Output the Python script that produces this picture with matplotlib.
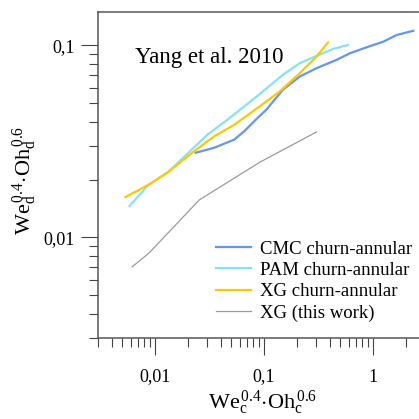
import matplotlib
matplotlib.use('Agg')
import matplotlib.pyplot as plt
from matplotlib.ticker import LogLocator, FuncFormatter, NullFormatter

plt.rcParams['font.family'] = ['Liberation Serif', 'DejaVu Serif']
plt.rcParams['mathtext.fontset'] = 'custom'
plt.rcParams['mathtext.rm'] = 'Liberation Serif'
plt.rcParams['mathtext.it'] = 'Liberation Serif:italic'

# data (log-log)
cmc_x = [0.0236, 0.0349, 0.0533, 0.0659, 0.0873, 0.105, 0.149, 0.213, 0.303,
         0.462, 0.613, 0.873, 1.242, 1.648, 2.344]
cmc_y = [0.0276, 0.0293, 0.0323, 0.0357, 0.0419, 0.0462, 0.0587, 0.0688, 0.076,
         0.0839, 0.0909, 0.0976, 0.1044, 0.1131, 0.119]

pam_x = [0.00584, 0.00849, 0.01345, 0.0303, 0.0462, 0.0873, 0.149, 0.213, 0.303,
         0.430, 0.591]
pam_y = [0.01458, 0.01851, 0.02213, 0.0343, 0.041, 0.0546, 0.0702, 0.0807, 0.088,
         0.0957, 0.1004]

xg_x = [0.00536, 0.00849, 0.01297, 0.02285, 0.0349, 0.0533, 0.0873, 0.139, 0.213,
        0.303, 0.387]
xg_y = [0.01623, 0.01866, 0.02172, 0.0281, 0.0336, 0.0386, 0.0472, 0.0575, 0.0716,
        0.0873, 0.1036]

own_x = [0.00618, 0.00881, 0.0254, 0.0911, 0.303]
own_y = [0.00704, 0.0083, 0.01566, 0.0246, 0.0354]

labels = ['CMC churn-annular', 'PAM churn-annular', 'XG churn-annular', 'XG (this work)']

fig = plt.figure(figsize=(4.19, 4.19), dpi=100)
ax = fig.add_axes([98 / 419, 81 / 419, 327 / 419, 326 / 419])

ax.plot(cmc_x, cmc_y, color='#6496F0', lw=1.6, label=labels[0])
ax.plot(pam_x, pam_y, color='#86E2F6', lw=1.6, label=labels[1])
ax.plot(xg_x, xg_y, color='#FFC800', lw=1.6, label=labels[2])
ax.plot(own_x, own_y, color='#9A9A9A', lw=0.9, label=labels[3])

ax.set_xscale('log')
ax.set_yscale('log')
ax.set_xlim(0.003, 3)
ax.set_ylim(0.003, 0.149)

fmt = FuncFormatter(lambda v, p: ('%g' % v).replace('.', ','))
for axis in (ax.xaxis, ax.yaxis):
    axis.set_major_locator(LogLocator(base=10))
    axis.set_minor_locator(LogLocator(base=10, subs=range(2, 10)))
    axis.set_major_formatter(fmt)
    axis.set_minor_formatter(NullFormatter())

for s in ['left', 'bottom', 'top']:
    ax.spines[s].set_color('#555555')
    ax.spines[s].set_linewidth(1.1)
ax.spines['right'].set_visible(False)

ax.tick_params(which='major', direction='out', length=12, width=0.8, color='#444444',
               labelsize=13)
ax.tick_params(which='minor', direction='out', length=6.5, width=0.8, color='#444444')
ax.tick_params(axis='x', which='major', pad=10)
ax.tick_params(axis='y', which='major', pad=5)

# axis titles placed in figure pixels
fig.text(263 / 419, 1 - 403 / 419, r'$\mathrm{We_c^{\,0.4}{\cdot}Oh_c^{\,0.6}}$',
         fontsize=16, ha='center', va='center')
fig.text(25 / 419, 1 - 180 / 419, r'$\mathrm{We_d^{\,0.4}{\cdot}Oh_d^{\,0.6}}$',
         fontsize=16, ha='center', va='center', rotation=90)

fig.text(135 / 419, 1 - 57 / 419, 'Yang et al. 2010', fontsize=16.5,
         va='center', ha='left')

ax.legend(loc='upper left', bbox_to_anchor=(208 / 419, 1 - 233 / 419),
          bbox_transform=fig.transFigure, frameon=False, fontsize=13.5,
          handlelength=1.9, handletextpad=0.5, labelspacing=0.22, borderaxespad=0)

fig.savefig('out.png', dpi=100)
